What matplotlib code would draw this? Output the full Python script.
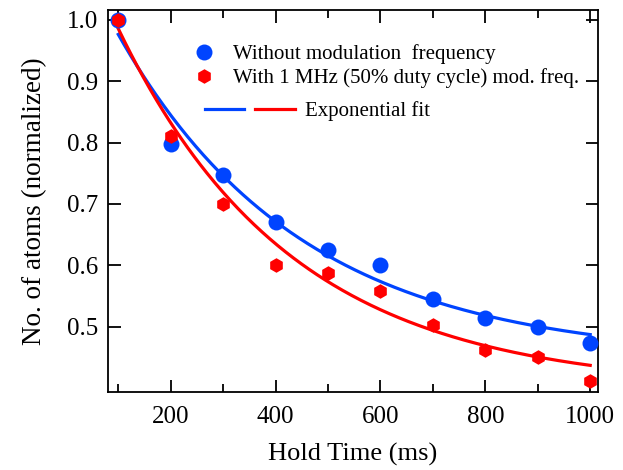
import numpy as np
import matplotlib.pyplot as plt
from matplotlib.legend_handler import HandlerTuple
from matplotlib.lines import Line2D

plt.rcParams['font.family'] = ['Liberation Serif', 'DejaVu Serif']
plt.rcParams['mathtext.fontset'] = 'stix'

# data
hold_time = [100, 200, 300, 400, 500, 600, 700, 800, 900, 1000]
atoms_nomod = [1.0, 0.798, 0.748, 0.67, 0.625, 0.60, 0.545, 0.515, 0.50, 0.473]
atoms_mod = [1.0, 0.81, 0.70, 0.60, 0.588, 0.558, 0.503, 0.462, 0.451, 0.412]

# exponential fit parameters y = y0 + A*exp(-t/tau)
fit_nomod = (0.447, 0.704, 350.0)
fit_mod = (0.399, 0.794, 330.0)

blue = '#0044ff'
red = '#ff0000'

fig = plt.figure(figsize=(6.23, 4.70), dpi=100)
ax = fig.add_axes([0.173, 0.166, 0.787, 0.813])

tt = np.linspace(100, 1000, 300)
def expfit(t, p):
    return p[0] + p[1] * np.exp(-t / p[2])

ax.plot(tt, expfit(tt, fit_nomod), color=blue, lw=2.3, zorder=2)
ax.plot(tt, expfit(tt, fit_mod), color=red, lw=2.3, zorder=2)
p1, = ax.plot(hold_time, atoms_nomod, 'o', color=blue, ms=11.5, mec='none', zorder=3)
p2, = ax.plot(hold_time, atoms_mod, 'h', color=red, ms=10.5, mec='none', zorder=4)

ax.set_xlim(80, 1015)
ax.set_ylim(0.394, 1.016)
ax.set_xticks([200, 400, 600, 800, 1000])
ax.set_xticks(np.arange(100, 1001, 100), minor=True)
ax.set_yticks([0.5, 0.6, 0.7, 0.8, 0.9, 1.0])
ax.set_yticklabels(['0.5', '0.6', '0.7', '0.8', '0.9', '1.0'])
ax.tick_params(which='both', direction='in', top=True, right=True, labelsize=18, width=1.3)
ax.tick_params(which='major', length=9)
ax.tick_params(which='minor', length=6)
ax.tick_params(axis='x', pad=10)
ax.tick_params(axis='y', pad=7)
for s in ax.spines.values():
    s.set_linewidth(1.3)

ax.set_xlabel('Hold Time (ms)', fontsize=19, labelpad=11)
ax.set_ylabel('No. of atoms (normalized)', fontsize=19.5, labelpad=14)

leg1 = ax.legend([p1, p2], ['Without modulation  frequency',
                            'With 1 MHz (50% duty cycle) mod. freq.'],
                 loc='upper left', bbox_to_anchor=(0.136, 0.96), frameon=False,
                 fontsize=15, handlelength=1.0, handletextpad=0.9, labelspacing=0.22)
ax.add_artist(leg1)
lb = Line2D([], [], color=blue, lw=2.3)
lr = Line2D([], [], color=red, lw=2.3)
ax.legend([(lb, lr)], ['Exponential fit'], handler_map={tuple: HandlerTuple(ndivide=None, pad=0.55)},
          loc='upper left', bbox_to_anchor=(0.16, 0.81), frameon=False,
          fontsize=15, handlelength=4.3, handletextpad=0.5)

fig.savefig('out.png', dpi=100)
